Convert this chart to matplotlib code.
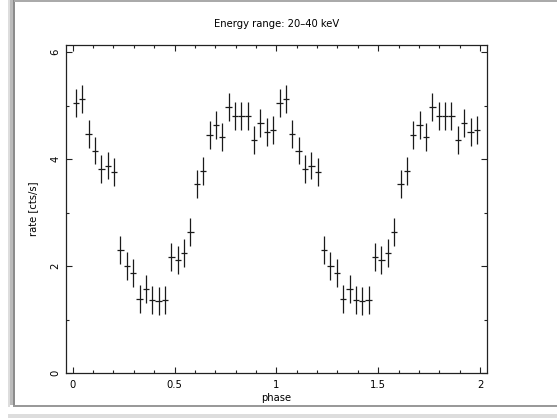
import numpy as np
import matplotlib
matplotlib.use("Agg")
import matplotlib.pyplot as plt
from matplotlib.patches import Rectangle
from matplotlib.ticker import MultipleLocator

# folded light curve, 32 phase bins, plotted over two cycles
nbins = 32
rate = [5.05, 5.12, 4.47, 4.16, 3.82, 3.88, 3.76, 2.30,
        2.01, 1.88, 1.38, 1.57, 1.37, 1.35, 1.37, 2.17,
        2.11, 2.24, 2.64, 3.54, 3.77, 4.45, 4.63, 4.42,
        4.97, 4.80, 4.80, 4.80, 4.36, 4.67, 4.51, 4.55]
rate_err = [0.26, 0.26, 0.26, 0.26, 0.26, 0.26, 0.26, 0.26,
            0.26, 0.26, 0.26, 0.26, 0.26, 0.26, 0.26, 0.26,
            0.26, 0.26, 0.26, 0.26, 0.26, 0.26, 0.26, 0.26,
            0.26, 0.26, 0.26, 0.26, 0.26, 0.26, 0.26, 0.26]
title = "Energy range: 20\u201340 keV"

phase = (np.arange(nbins) + 0.5) / nbins
phase2 = np.concatenate([phase, phase + 1])
rate2 = np.concatenate([rate, rate])
err2 = np.concatenate([rate_err, rate_err])

plt.rcParams['font.family'] = ['DejaVu Sans']
fig = plt.figure(figsize=(5.57, 4.18), dpi=100)
ax = fig.add_axes([0.1185, 0.1069, 0.7558, 0.7854])

ax.errorbar(phase2, rate2, xerr=0.5 / nbins, yerr=err2, fmt='none',
            ecolor='#1a1a1a', elinewidth=0.9, capsize=0)

ax.set_xlim(-0.033, 2.034)
ax.set_ylim(0, 6.13)
ax.xaxis.set_major_locator(MultipleLocator(0.5))
ax.xaxis.set_minor_locator(MultipleLocator(0.1))
ax.yaxis.set_major_locator(MultipleLocator(2))
ax.yaxis.set_minor_locator(MultipleLocator(1))
ax.xaxis.set_major_formatter(matplotlib.ticker.FuncFormatter(lambda v, p: f"{v:g}"))
ax.yaxis.set_major_formatter(matplotlib.ticker.FuncFormatter(lambda v, p: f"{v:g}"))
ax.tick_params(which='both', direction='in', top=True, right=True,
               width=0.8, color='#222222', labelsize=7.2)
ax.tick_params(which='major', length=4.5)
ax.tick_params(which='minor', length=2.2)
ax.tick_params(axis='x', pad=5)
ax.tick_params(axis='y', pad=4)
for lab in ax.get_yticklabels():
    lab.set_rotation(90)
    lab.set_va('center')
for s in ax.spines.values():
    s.set_linewidth(0.9)
    s.set_color('#222222')

ax.set_xlabel("phase", fontsize=7.2, labelpad=2)
ax.set_ylabel("rate [cts/s]", fontsize=7.2, labelpad=9)
fig.text(0.497, 0.9426, title, ha='center', va='center', fontsize=7.2)

# window-style frame around the plot
frame = [
    (8 / 557, 11 / 418, 2 / 557, 407 / 418, '#dddddd'),
    (10 / 557, 13 / 418, 3 / 557, 405 / 418, '#bbbbbb'),
    (13 / 557, 11 / 418, 1.6 / 557, 407 / 418, '#8c8c8c'),
    (13 / 557, 11 / 418, 544 / 557, 2 / 418, '#999999'),
    (8 / 557, 0, 549 / 557, 4 / 418, '#dddddd'),
    (14 / 557, 416.5 / 418, 543 / 557, 1.5 / 418, '#aaaaaa'),
]
for x0, y0, w, h, c in frame:
    fig.add_artist(Rectangle((x0, y0), w, h, transform=fig.transFigure,
                             facecolor=c, edgecolor='none'))

fig.savefig("out.png", dpi=100)
